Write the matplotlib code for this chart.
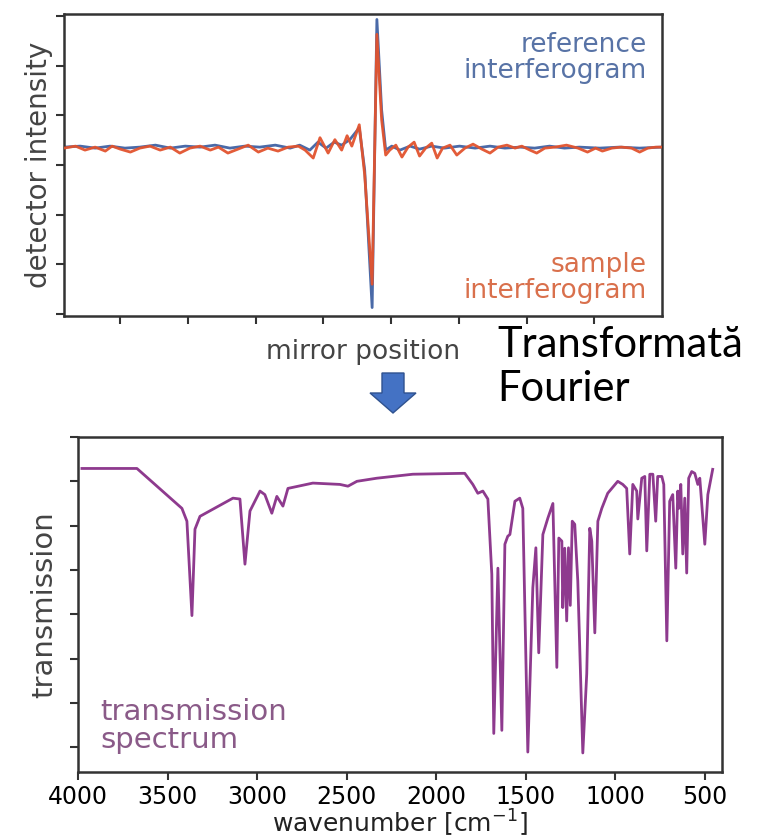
import matplotlib
matplotlib.use("Agg")
import matplotlib.pyplot as plt
from matplotlib.patches import Polygon

# ---------------- data: interferograms (mirror position, detector intensity) -------------
ref_x = [-0.83, -0.59, -0.37, -0.15, 0.07, 0.29, 0.52, 0.74, 0.96, 1.18, 1.40, 1.62, 1.84,
         2.06, 2.29, 2.51, 2.65, 2.80, 2.92, 3.04, 3.16, 3.27, 3.39, 3.53, 3.61, 3.72, 3.79,
         3.86, 3.92, 4.01, 4.13, 4.28, 4.42, 4.60, 4.79, 5.01, 5.24, 5.46, 5.68, 5.90, 6.12,
         6.34, 6.56, 6.78, 7.08, 7.37, 7.67, 7.99]
ref_y = [0.36, 0.38, 0.34, 0.38, 0.34, 0.36, 0.40, 0.34, 0.38, 0.36, 0.40, 0.34, 0.38,
         0.36, 0.40, 0.34, 0.40, 0.30, 0.46, 0.34, 0.46, 0.40, 0.51, 0.75, -0.10, -2.87, 2.93,
         1.11, 0.30, 0.38, 0.30, 0.38, 0.32, 0.38, 0.34, 0.38, 0.34, 0.38, 0.34, 0.36, 0.34,
         0.38, 0.34, 0.36, 0.34, 0.36, 0.34, 0.36]

smp_x = [-0.83, -0.66, -0.52, -0.37, -0.22, -0.12, 0.00, 0.15, 0.29, 0.44, 0.59, 0.74, 0.88,
         1.03, 1.18, 1.33, 1.45, 1.59, 1.74, 1.89, 2.04, 2.18, 2.33, 2.48, 2.63, 2.73, 2.85,
         2.95, 3.07, 3.17, 3.27, 3.35, 3.42, 3.53, 3.61, 3.72, 3.79, 3.86, 3.92, 3.98, 4.07,
         4.16, 4.25, 4.34, 4.42, 4.51, 4.60, 4.68, 4.76, 4.87, 4.97, 5.09, 5.21, 5.34, 5.46,
         5.58, 5.71, 5.83, 5.93, 6.05, 6.15, 6.27, 6.42, 6.59, 6.76, 6.90, 7.02, 7.12, 7.26,
         7.40, 7.55, 7.67, 7.79, 7.91, 7.99]
smp_y = [0.34, 0.38, 0.30, 0.36, 0.28, 0.38, 0.32, 0.26, 0.34, 0.38, 0.30, 0.36, 0.24,
         0.34, 0.38, 0.30, 0.36, 0.24, 0.32, 0.40, 0.26, 0.34, 0.28, 0.36, 0.38, 0.30, 0.14,
         0.55, 0.24, 0.51, 0.30, 0.59, 0.38, 0.81, -0.20, -2.40, 2.63, 0.91, 0.20, 0.30, 0.40,
         0.16, 0.36, 0.46, 0.18, 0.34, 0.44, 0.14, 0.34, 0.40, 0.20, 0.34, 0.42, 0.32, 0.24,
         0.36, 0.40, 0.34, 0.38, 0.30, 0.24, 0.34, 0.36, 0.40, 0.34, 0.26, 0.34, 0.28, 0.34,
         0.36, 0.34, 0.26, 0.34, 0.36, 0.36]

# ---------------- data: transmission spectrum (wavenumber cm^-1, transmission %) ----------
wavenumber = [3978, 3671, 3420, 3392, 3364, 3347, 3319, 3135, 3096, 3068, 3040, 2984, 2957,
              2918, 2890, 2856, 2828, 2689, 2538, 2493, 2443, 2332, 2131, 1852, 1841, 1796,
              1768, 1740, 1712, 1690, 1679, 1656, 1634, 1617, 1601, 1589, 1561, 1534, 1517,
              1489, 1461, 1444, 1428, 1405, 1377, 1349, 1327, 1316, 1299, 1294, 1283, 1272,
              1262, 1252, 1241, 1227, 1210, 1182, 1160, 1143, 1132, 1115, 1098, 1076, 1043,
              987, 959, 937, 920, 903, 881, 875, 853, 836, 825, 808, 791, 775, 764, 741, 730,
              713, 697, 680, 663, 652, 646, 635, 624, 613, 602, 591, 574, 557, 540, 529, 501,
              484, 457]
transmission = [72.9, 72.9, 63.9, 61.0, 39.7, 59.2, 62.1, 66.2, 66.0, 51.3, 63.3, 67.8, 67.0,
                62.8, 66.6, 64.4, 68.4, 69.6, 69.3, 68.9, 70.0, 70.7, 71.6, 71.8, 71.8, 69.3,
                67.3, 67.8, 66.0, 49.0, 13.1, 50.4, 13.8, 55.8, 57.6, 58.0, 65.5, 66.2, 63.9,
                8.9, 46.0, 55.0, 31.3, 58.0, 61.7, 65.0, 28.0, 57.2, 56.5, 41.5, 54.9, 38.5,
                55.0, 42.0, 61.0, 60.3, 47.5, 8.7, 26.6, 59.4, 56.5, 35.8, 61.0, 63.9, 67.3,
                70.0, 69.3, 68.4, 53.6, 69.3, 67.8, 61.5, 70.7, 71.1, 54.3, 71.6, 71.6, 61.0,
                71.1, 71.1, 69.3, 34.0, 65.5, 67.0, 50.4, 67.8, 63.9, 69.3, 53.6, 66.2, 49.3,
                70.7, 72.2, 71.8, 69.3, 70.7, 55.8, 67.0, 72.7]

top_xticks = [0, 1, 2, 3, 4, 5, 6, 7]
top_yticks = [-3, -2, -1, 0, 1, 2, 3]
bot_xticks = [4000, 3500, 3000, 2500, 2000, 1500, 1000, 500]
bot_yticks = [10, 20, 30, 40, 50, 60, 70, 80]

# ---------------- figure ----------------
W, H = 760, 838
fig = plt.figure(figsize=(W / 100, H / 100), dpi=100)
fig.patch.set_facecolor("white")

def frac_axes(l, t, r, b):
    return fig.add_axes([l / W, 1 - b / H, (r - l) / W, (b - t) / H])

# ---- top: interferograms ----
ax1 = frac_axes(64, 14, 662, 316)
ax1.plot(ref_x, ref_y, color="#4a6aa8", lw=2.0, zorder=2, solid_joinstyle="round")
ax1.plot(smp_x, smp_y, color="#e2532e", lw=2.0, alpha=0.95, zorder=3, solid_joinstyle="round")
ax1.set_xlim(-0.83, 8.0)
ax1.set_ylim(-3.04, 3.04)
ax1.set_xticks(top_xticks)
ax1.set_yticks(top_yticks)
ax1.tick_params(direction="out", length=6, width=1.5, color="#333333",
                labelbottom=False, labelleft=False)
for s in ax1.spines.values():
    s.set_linewidth(1.8)
    s.set_color("#333333")
ax1.set_ylabel("detector intensity", fontsize=20, color="#444444", labelpad=2)
ax1.text(0.975, 0.94, "reference\ninterferogram", transform=ax1.transAxes,
         ha="right", va="top", fontsize=19, color="#5873a6", linespacing=1.0)
ax1.text(0.975, 0.04, "sample\ninterferogram", transform=ax1.transAxes,
         ha="right", va="bottom", fontsize=19, color="#d9704c", linespacing=1.0)

fig.text(363 / W, 1 - 352 / H, "mirror position", ha="center", va="center",
         fontsize=19, color="#444444")

# ---- arrow + Fourier text ----
arrow_pts = [(382, 373), (404, 373), (404, 393), (416, 393), (393, 413), (370, 393), (382, 393)]
arrow = Polygon([(x / W, 1 - y / H) for x, y in arrow_pts], closed=True,
                transform=fig.transFigure, facecolor="#4472C4", edgecolor="#2F528F", lw=1)
fig.add_artist(arrow)
fig.text(497 / W, 1 - 326 / H, "Transformată\nFourier", ha="left", va="top",
         fontsize=30, family=["Lato", "DejaVu Sans"], color="black", linespacing=1.2)

# ---- bottom: spectrum ----
ax2 = frac_axes(78, 437, 722, 772)
ax2.plot(wavenumber, transmission, color="#8e3a8e", lw=2.0, solid_joinstyle="round")
ax2.set_xlim(4000, 405)
ax2.set_ylim(4.4, 79.7)
ax2.set_xticks(bot_xticks)
ax2.set_xticklabels([str(v) for v in bot_xticks])
ax2.set_yticks(bot_yticks)
ax2.tick_params(axis="both", direction="out", length=6, width=1.5, color="#333333",
                labelsize=17, labelleft=False)
for s in ax2.spines.values():
    s.set_linewidth(1.8)
    s.set_color("#333333")
ax2.set_xlabel("wavenumber [cm$^{-1}$]", fontsize=18, labelpad=-1, color="#222222")
ax2.set_ylabel("transmission", fontsize=21, color="#444444", labelpad=8)
ax2.text(0.035, 0.22, "transmission\nspectrum", transform=ax2.transAxes,
         ha="left", va="top", fontsize=21, color="#8a5a88", linespacing=1.0)

fig.savefig("out.png", dpi=100, facecolor="white")
